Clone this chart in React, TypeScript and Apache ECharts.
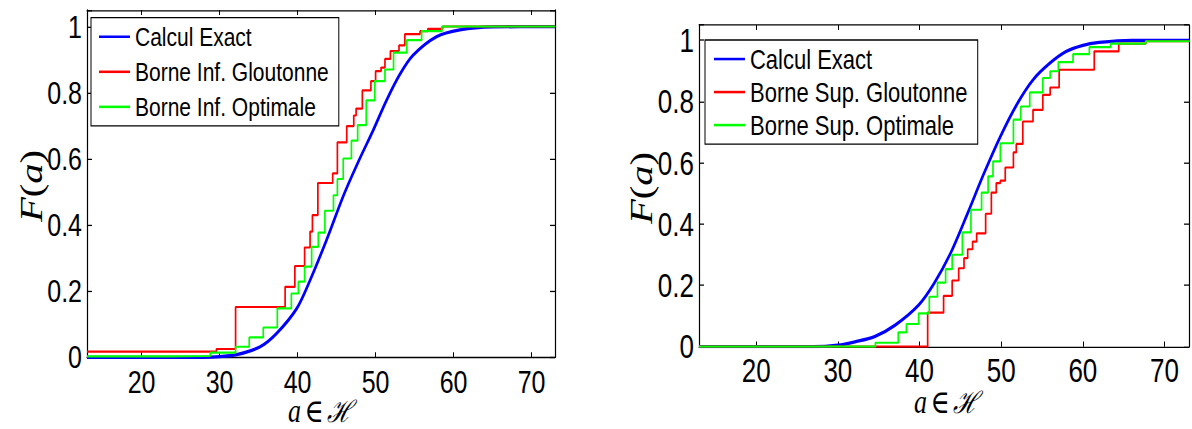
import React, { useEffect, useRef } from "react";
import * as echarts from "echarts";

// ---------- data ----------
const X_MIN = 13;
const X_MAX = 73;
const Y_MAX = 1.05;

// Left panel (Borne Inf.)
const leftExact: [number, number][] = [
  [13, 0], [28, 0], [30, 0.002], [32.2, 0.008], [35.2, 0.032], [37.3, 0.072], [39.9, 0.148],
  [41.6, 0.233], [43.7, 0.354], [45.9, 0.49], [47.8, 0.592], [49.7, 0.687], [51.4, 0.777],
  [53.1, 0.855], [54.8, 0.913], [57.8, 0.969], [60.8, 0.99], [65, 0.999], [73, 1],
];
const leftGreedy: [number, number][] = [
  [13, 0.017], [29.6, 0.025], [32.05, 0.152], [38.4, 0.213], [39.65, 0.276], [40.9, 0.332],
  [41.6, 0.38], [41.9, 0.43], [42.6, 0.527], [44.5, 0.556], [45.1, 0.65], [46.3, 0.699],
  [47.2, 0.731], [47.5, 0.752], [48.3, 0.807], [49.4, 0.835], [50.0, 0.865], [50.7, 0.876],
  [51.2, 0.902], [51.9, 0.926], [53.0, 0.943], [53.75, 0.977], [55.7, 0.986], [56.7, 0.993],
  [58.6, 1], [73, 1],
];
const leftOptimal: [number, number][] = [
  [13, 0.003], [23.4, 0.004], [28.8, 0.014], [32.05, 0.032], [33.8, 0.06], [35.6, 0.09],
  [37.4, 0.148], [39.2, 0.193], [40.1, 0.229], [40.9, 0.274], [41.8, 0.334], [42.65, 0.377],
  [43.5, 0.443], [44.6, 0.49], [45.1, 0.539], [45.85, 0.601], [46.9, 0.655], [47.7, 0.702],
  [48.8, 0.777], [49.9, 0.835], [51.2, 0.87], [52.3, 0.921], [54.0, 0.959], [55.9, 0.986],
  [58.5, 1], [73, 1],
];

// Right panel (Borne Sup.)
const rightExact: [number, number][] = [
  [13, 0], [27, 0], [30, 0.005], [32.1, 0.016], [34.5, 0.033], [37, 0.07], [39.9, 0.136],
  [41.8, 0.207], [43.8, 0.305], [45.9, 0.436], [47.9, 0.566], [49.9, 0.686], [51.9, 0.79],
  [53.9, 0.871], [56, 0.926], [58, 0.964], [59.9, 0.983], [62, 0.993], [66, 1], [73, 1],
];
const rightGreedy: [number, number][] = [
  [13, 0], [41.0, 0.111], [42.95, 0.166], [44.0, 0.216], [44.8, 0.256], [45.45, 0.289],
  [45.9, 0.318], [46.5, 0.343], [47.0, 0.37], [48.1, 0.434], [48.8, 0.503], [49.4, 0.534],
  [49.9, 0.542], [50.5, 0.585], [51.5, 0.634], [51.85, 0.662], [52.65, 0.735], [53.9, 0.773],
  [55.1, 0.822], [56.0, 0.846], [57.1, 0.904], [61.4, 0.964], [64.4, 0.989], [67.7, 0.997],
  [73, 1],
];
const rightOptimal: [number, number][] = [
  [13, 0], [34.6, 0.013], [37.4, 0.047], [38.4, 0.074], [39.9, 0.109], [41.2, 0.163],
  [42.2, 0.209], [43.2, 0.253], [44.0, 0.3], [45.25, 0.373], [46.3, 0.447], [47.6, 0.503],
  [48.4, 0.556], [49.0, 0.605], [49.9, 0.664], [51.5, 0.741], [52.4, 0.784], [53.5, 0.83],
  [55.1, 0.877], [56.0, 0.899], [57.0, 0.929], [58.8, 0.955], [60.8, 0.978], [63.4, 0.989],
  [67.7, 0.997], [73, 1],
];

const leftNames = ["Calcul Exact", "Borne Inf. Gloutonne", "Borne Inf. Optimale"];
const rightNames = ["Calcul Exact", "Borne Sup. Gloutonne", "Borne Sup. Optimale"];

// ---------- styling ----------
// The reference figure is stretched vertically (tall, narrow glyphs);
// the chart is laid out in a shorter box and stretched with CSS scaleY.
const W = 1192;
const H = 429;
const S = 1.27;
const v = (y: number) => y / S;

const SANS = "'Liberation Sans', Arial, Helvetica, sans-serif";
const SERIF = "'Liberation Serif', 'DejaVu Serif', serif";

const grids = [
  { left: 87, top: v(10), width: 468, height: v(347.3) },
  { left: 699, top: v(25), width: 494, height: v(321.7) },
];

function xAxes(gridIndex: number, fontSize: number, margin: number) {
  const common = {
    type: "value" as const,
    gridIndex,
    min: X_MIN,
    max: X_MAX,
    splitLine: { show: false },
    axisLine: { show: true, onZero: false, lineStyle: { color: "#000", width: 1 } },
    axisTick: { show: true, inside: true, length: 4, lineStyle: { color: "#000" } },
  };
  return [
    {
      ...common,
      position: "bottom",
      axisLabel: {
        show: true,
        margin,
        color: "#000",
        fontSize,
        fontFamily: SANS,
        formatter: (x: number) => (Math.abs(x % 10) < 1e-6 ? String(x) : ""),
      },
    },
    { ...common, position: "top", axisLabel: { show: false } },
  ];
}

function yAxes(gridIndex: number, fontSize: number) {
  const common = {
    type: "value" as const,
    gridIndex,
    min: 0,
    max: Y_MAX,
    interval: 0.2,
    splitLine: { show: false },
    axisLine: { show: true, onZero: false, lineStyle: { color: "#000", width: 1.2 } },
    axisTick: { show: true, inside: true, length: 5, lineStyle: { color: "#000" } },
  };
  return [
    {
      ...common,
      position: "left",
      axisLabel: {
        show: true,
        margin: 5,
        color: "#000",
        fontSize,
        fontFamily: SANS,
        formatter: (y: number) => (y > 1.001 ? "" : String(Math.round(y * 10) / 10)),
      },
    },
    { ...common, position: "right", axisLabel: { show: false } },
  ];
}

function lineSeries(
  name: string,
  data: [number, number][],
  color: string,
  width: number,
  axis: number,
  step: boolean
) {
  return {
    type: "line",
    name,
    data,
    xAxisIndex: axis,
    yAxisIndex: axis,
    symbol: "none",
    showSymbol: false,
    step: step ? "end" : false,
    smooth: step ? false : 0.3,
    lineStyle: { color, width },
    itemStyle: { color },
    silent: true,
  };
}

function legendFor(
  names: string[],
  left: number,
  top: number,
  gap: number,
  fontSize: number,
  padding: number[]
) {
  return {
    data: names,
    orient: "vertical",
    left,
    top,
    itemWidth: 31,
    itemHeight: 4,
    itemGap: gap,
    padding,
    borderColor: "#000",
    borderWidth: 1,
    borderRadius: 0,
    backgroundColor: "#fff",
    selectedMode: false,
    itemStyle: { opacity: 0 },
    textStyle: { color: "#000", fontSize, fontFamily: SANS },
  };
}

function mathTitle(text: string, x: number, y: number, rotate: boolean, size: number) {
  return {
    type: "text",
    x,
    y,
    rotation: rotate ? Math.PI / 2 : 0,
    style: {
      text,
      align: "center",
      verticalAlign: "middle",
      fill: "#000",
      rich: {
        i: { fontFamily: SERIF, fontStyle: "italic", fontSize: size, fill: "#000" },
        n: { fontFamily: SERIF, fontSize: size, fill: "#000" },
        h: { fontFamily: "'DejaVu Serif', serif", fontStyle: "italic", fontSize: size - 2, fill: "#000" },
      },
    },
  };
}

export default function App() {
  const ref = useRef<HTMLDivElement>(null);

  useEffect(() => {
    if (!ref.current) return;
    const chart = echarts.init(ref.current, undefined, { renderer: "svg" });
    const option = {
      animation: false,
      backgroundColor: "#fff",
      grid: grids.map((g) => ({ ...g, containLabel: false })),
      xAxis: [...xAxes(0, 25, 7), ...xAxes(1, 26, 6)],
      yAxis: [...yAxes(0, 25), ...yAxes(1, 26)],
      legend: [
        legendFor(leftNames, 91, v(17.7), 6.6, 21, [4.5, 10, 4.5, 7]),
        legendFor(rightNames, 705, v(40), 4, 22, [4, 10, 4, 8]),
      ],
      series: [
        lineSeries(leftNames[0], leftExact, "#0000ff", 2.6, 0, false),
        lineSeries(leftNames[1], leftGreedy, "#ff0000", 1.7, 0, true),
        lineSeries(leftNames[2], leftOptimal, "#00ff00", 1.7, 0, true),
        lineSeries(rightNames[0], rightExact, "#0000ff", 2.6, 2, false),
        lineSeries(rightNames[1], rightGreedy, "#ff0000", 1.7, 2, true),
        lineSeries(rightNames[2], rightOptimal, "#00ff00", 1.7, 2, true),
      ],
      graphic: [
        mathTitle("{i|F}{n|(}{i|a}{n|)}", 31, v(186), true, 32),
        mathTitle("{i|F}{n|(}{i|a}{n|)}", 641, v(188), true, 32),
        mathTitle("{i|a} {n|∈} {h|ℋ}", 320, v(411), false, 26),
        mathTitle("{i|a} {n|∈} {h|ℋ}", 946, v(402), false, 26),
      ],
    };
    chart.setOption(option as any);
    return () => chart.dispose();
  }, []);

  return (
    <div style={{ position: "absolute", left: 0, top: 0, width: W, height: H, background: "#fff", overflow: "hidden" }}>
      <div
        ref={ref}
        style={{
          width: W,
          height: H / S,
          transform: `scaleY(${S})`,
          transformOrigin: "0 0",
        }}
      />
    </div>
  );
}
